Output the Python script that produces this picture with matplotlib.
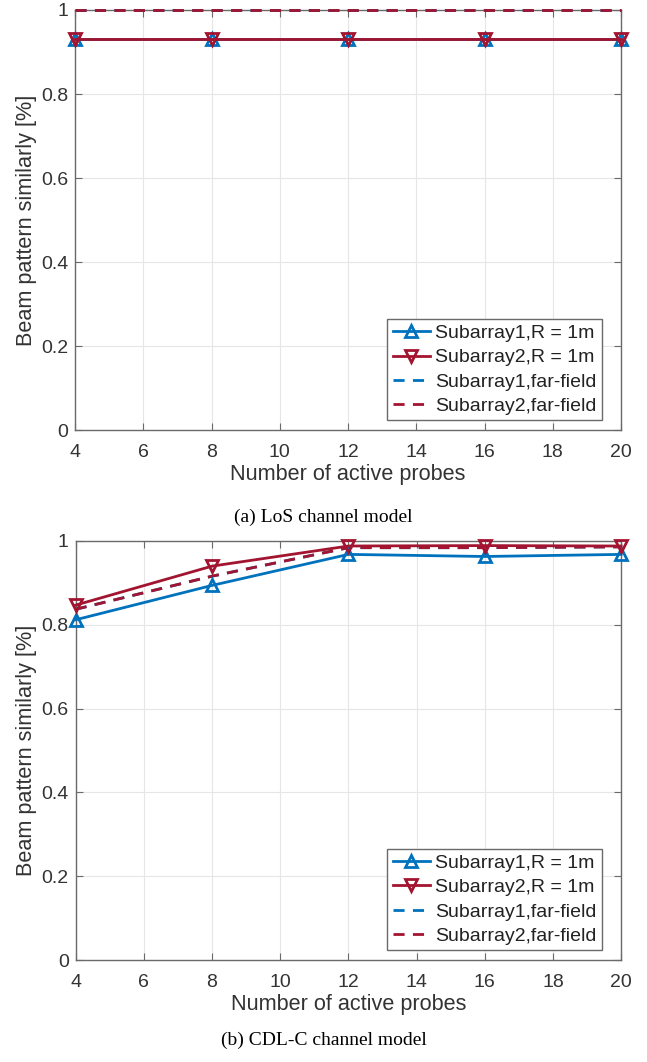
import matplotlib.pyplot as plt

# number of active probes
probes = [4, 8, 12, 16, 20]

# LoS channel model
los_sub1_r1m = [0.93, 0.93, 0.93, 0.93, 0.93]
los_sub2_r1m = [0.93, 0.93, 0.93, 0.93, 0.93]
los_sub1_ff = [1.0, 1.0, 1.0, 1.0, 1.0]
los_sub2_ff = [1.0, 1.0, 1.0, 1.0, 1.0]

# CDL-C channel model
cdl_sub1_r1m = [0.812, 0.894, 0.968, 0.963, 0.968]
cdl_sub2_r1m = [0.847, 0.940, 0.988, 0.989, 0.988]
cdl_sub1_ff = [0.837, 0.916, 0.984, 0.984, 0.986]
cdl_sub2_ff = [0.837, 0.916, 0.984, 0.984, 0.986]

labels = ['Subarray1,R = 1m', 'Subarray2,R = 1m',
          'Subarray1,far-field', 'Subarray2,far-field']
captions = ['(a) LoS channel model', '(b) CDL-C channel model']

blue = '#0072BD'
red = '#A2142F'
txt = '#333333'
axc = '#6a6a6a'
dash = (0, (4, 3))

plt.rcParams['font.family'] = ['Liberation Sans', 'DejaVu Sans']

fig = plt.figure(figsize=(6.47, 10.62), dpi=100)
ax1 = fig.add_axes([0.116, 0.595, 0.844, 0.3956])
ax2 = fig.add_axes([0.117, 0.096, 0.843, 0.3946])

datasets = [
    (ax1, los_sub1_r1m, los_sub2_r1m, los_sub1_ff, los_sub2_ff),
    (ax2, cdl_sub1_r1m, cdl_sub2_r1m, cdl_sub1_ff, cdl_sub2_ff),
]

for ax, s1, s2, f1, f2 in datasets:
    ax.plot(probes, s1, color=blue, lw=2, marker='^', ms=9, mfc='none',
            mew=2, label=labels[0], clip_on=False, zorder=4)
    ax.plot(probes, s2, color=red, lw=2, marker='v', ms=9, mfc='none',
            mew=2, label=labels[1], clip_on=False, zorder=5)
    ax.plot(probes, f1, color=blue, lw=2, ls=dash,
            label=labels[2], clip_on=False, zorder=3)
    ax.plot(probes, f2, color=red, lw=2, ls=dash,
            label=labels[3], clip_on=False, zorder=3.5)

    ax.set_xlim(4, 20)
    ax.set_ylim(0, 1)
    ax.set_xticks(range(4, 21, 2))
    ax.set_yticks([0, 0.2, 0.4, 0.6, 0.8, 1])
    ax.set_yticklabels(['0', '0.2', '0.4', '0.6', '0.8', '1'])
    ax.grid(True, color='#e6e6e6', lw=0.8)
    ax.set_axisbelow(True)
    ax.tick_params(direction='in', length=5, width=0.8, color=axc,
                   labelcolor=txt, labelsize=14, top=True, right=True)
    ax.tick_params(axis='x', pad=10)
    ax.tick_params(axis='y', pad=5)
    for sp in ax.spines.values():
        sp.set_color(axc)
        sp.set_linewidth(1.0)
    ax.set_xlabel('Number of active probes', fontsize=15.6, color=txt,
                  labelpad=2)
    ax.set_ylabel('Beam pattern similarly [%]', fontsize=15.6, color=txt,
                  labelpad=3)
    leg = ax.legend(loc='lower right', bbox_to_anchor=(0.965, 0.024),
                    fontsize=14, frameon=True, fancybox=False,
                    edgecolor=axc, handlelength=1.9, handletextpad=0.3,
                    borderpad=0.27, labelspacing=0.34, borderaxespad=0,
                    framealpha=1)
    leg.get_frame().set_linewidth(1.0)
    for t in leg.get_texts():
        t.set_color('#222222')

fig.text(0.5, 0.513, captions[0], ha='center', va='center', fontsize=14,
         family='Liberation Serif')
fig.text(0.5, 0.0205, captions[1], ha='center', va='center', fontsize=14,
         family='Liberation Serif')

fig.savefig('out.png', dpi=100)
